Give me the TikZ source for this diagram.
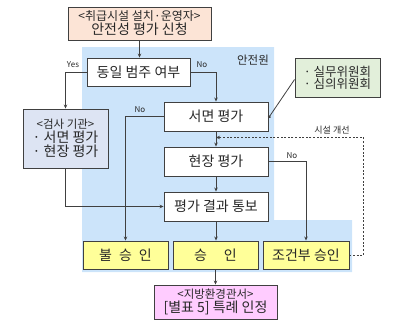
\documentclass[tikz,border=0pt]{standalone}
\usepackage{fontspec}
\setmainfont{Noto Sans CJK KR}
\usetikzlibrary{arrows.meta,calc}
\definecolor{bluebg}{RGB}{204,228,250}
\definecolor{peach}{RGB}{252,228,214}
\definecolor{greenbox}{RGB}{226,239,218}
\definecolor{yellowbox}{RGB}{255,255,153}
\definecolor{pinkbox}{RGB}{255,204,255}
\definecolor{lavbox}{RGB}{221,228,243}
\definecolor{edge}{RGB}{64,64,64}
\definecolor{txt}{RGB}{40,40,40}
\tikzset{
  box/.style={draw=edge, line width=0.9pt, fill=white, inner sep=1pt, align=center, text=txt, font=\fontsize{14}{16}\selectfont},
  conn/.style={draw=edge, line width=0.8pt, -{Stealth[length=4pt,width=3.5pt]}},
  lbl/.style={text=txt, font=\fontsize{8}{9}\selectfont, inner sep=0pt}
}
\begin{document}
\begin{tikzpicture}[x=1pt,y=-1pt]
\useasboundingbox (0,0) rectangle (400,324);
\fill[bluebg] (82,47) -- (274,47) -- (274,220) -- (352,220) -- (352,272) -- (82,272) -- cycle;

\node[box, fill=peach, minimum width=143pt, minimum height=33pt] (top) at (139.5,23.5)
  {{\fontsize{12}{13}\selectfont <취급시설 설치·운영자>}\\[-2pt]안전성 평가 신청};
\node[box, minimum width=103pt, minimum height=28pt] (dongil) at (138.5,72) {동일 범주 여부};
\node[box, minimum width=104pt, minimum height=29pt] (seomyeon) at (216,116.5) {서면 평가};
\node[box, minimum width=104pt, minimum height=29pt] (hyeonjang) at (216,161.5) {현장 평가};
\node[box, minimum width=104pt, minimum height=29pt] (result) at (216,206.5) {평가 결과 통보};
\node[box, fill=lavbox, minimum width=85pt, minimum height=59pt] (geomsa) at (65.5,138.5)
  {{\fontsize{11.5}{13}\selectfont <검사 기관>}\\[-2pt]· 서면 평가\\[-2pt]· 현장 평가};
\node[box, fill=greenbox, minimum width=85pt, minimum height=39pt, font=\fontsize{12.5}{14}\selectfont] (green) at (337.5,77.5)
  {· 실무위원회\\[-2pt]· 심의위원회};
\node[box, fill=yellowbox, minimum width=85pt, minimum height=28pt] (bul) at (125.5,255) {불\hspace{7pt}승\hspace{7pt}인};
\node[box, fill=yellowbox, minimum width=85pt, minimum height=28pt] (seung) at (215.5,255) {승\hspace{17pt}인};
\node[box, fill=yellowbox, minimum width=86pt, minimum height=28pt] (jogeon) at (306,255) {조건부 승인};
\node[box, fill=pinkbox, minimum width=123pt, minimum height=34pt] (jibang) at (215.5,302)
  {{\fontsize{11.5}{13}\selectfont <지방환경관서>}\\[-2pt][별표 5] 특례 인정};

\node[lbl] (yes) at (73,65) {Yes};
\node[lbl] (no1) at (202,65) {No};
\node[lbl] (no2) at (140,109.5) {No};
\node[lbl] (no3) at (292,155.5) {No};
\node[text=txt, font=\fontsize{11.5}{12}\selectfont, inner sep=0pt] (anjeon) at (253,60) {안전원};
\node[text=txt, font=\fontsize{9}{10}\selectfont, inner sep=0pt] (gaeseon) at (332,130) {시설 개선};

\coordinate (mid) at ($(seomyeon.south)!0.4!(hyeonjang.north)$);

\draw[conn] (top.south) -- (top.south |- dongil.north);
\draw[conn] (dongil.west) -| (geomsa.north);
\draw[conn] (dongil.east) -| (seomyeon.north);
\draw[conn] (seomyeon.south) -- (hyeonjang.north);
\draw[conn] (hyeonjang.south) -- (result.north);
\draw[conn] (result.south) -- (result.south |- seung.north);
\draw[conn] (seung.south) -- (seung.south |- jibang.north);
\draw[conn] (seomyeon.west) -| (bul.north);
\draw[conn] (hyeonjang.east) -| (jogeon.north);
\draw[conn] (geomsa.south) |- (result.west);
\draw[draw=edge, line width=0.8pt, -{Circle[length=3pt]}] ([yshift=-2pt]green.west) -- ([yshift=-1.5pt]seomyeon.east);
\draw[conn, dash pattern=on 2pt off 1.6pt] (jogeon.east) -- ++(14,0) |- (mid);
\end{tikzpicture}
\end{document}
